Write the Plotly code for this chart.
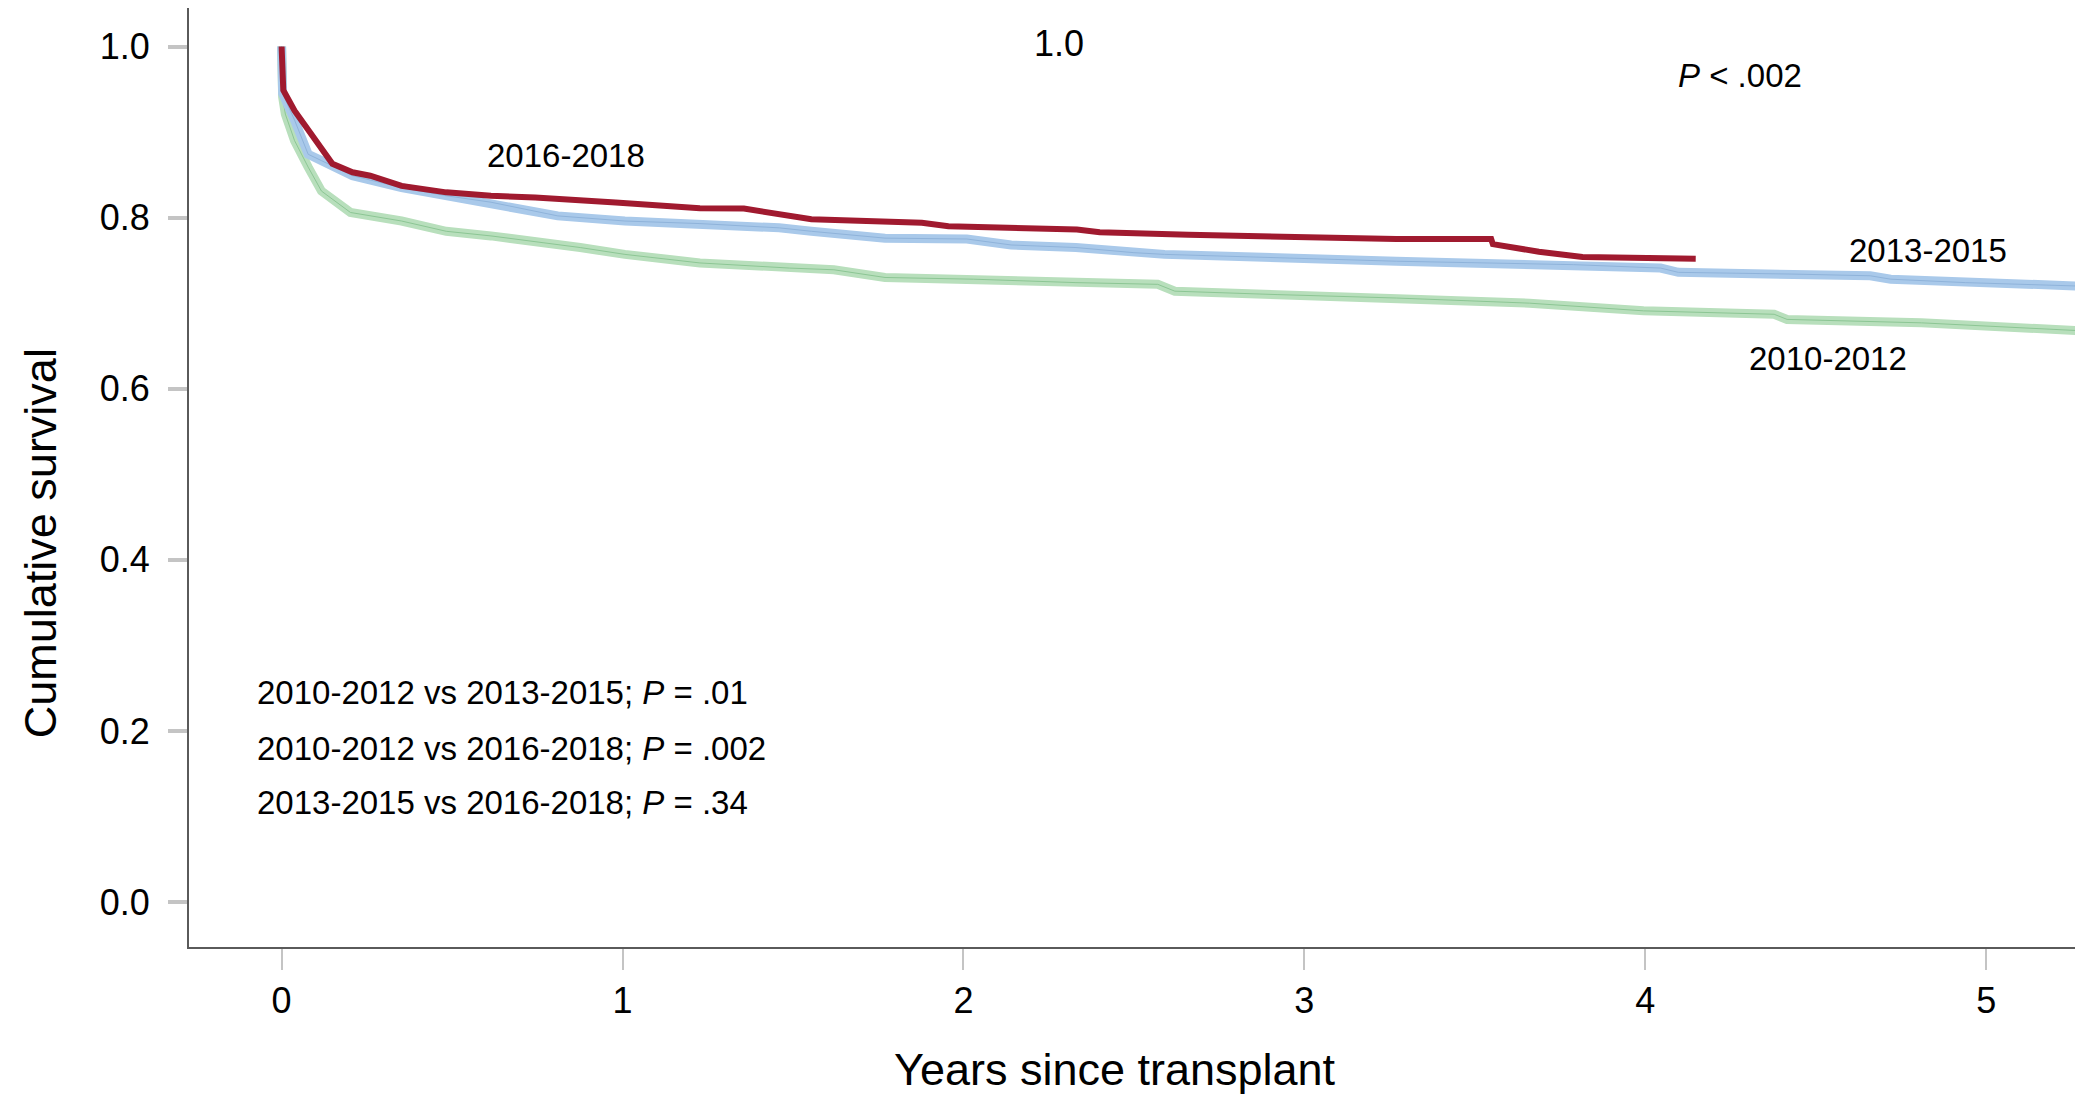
import plotly.graph_objects as go

# ---- data ----
years_2016 = [0, 0.005, 0.038, 0.078, 0.117, 0.149, 0.208, 0.26, 0.352, 0.483, 0.614, 0.744, 0.98,
              1.227, 1.356, 1.554, 1.878, 1.956, 2.333, 2.40, 2.66, 3.27, 3.548, 3.553, 3.688, 3.816, 4.148]
surv_2016 = [1.0, 0.949, 0.925, 0.902, 0.882, 0.863, 0.853, 0.849, 0.837, 0.8295, 0.8255, 0.8236, 0.8177,
             0.811, 0.8106, 0.798, 0.794, 0.790, 0.786, 0.783, 0.780, 0.775, 0.775, 0.769, 0.760, 0.754, 0.752]

years_2013 = [0, 0.003, 0.038, 0.078, 0.117, 0.208, 0.352, 0.483, 0.614, 0.81, 1.007, 1.227, 1.46, 1.554,
              1.77, 2.01, 2.14, 2.33, 2.50, 2.59, 3.27, 3.79, 4.045, 4.097, 4.43, 4.66, 4.72, 4.94, 5.27]
surv_2013 = [1.0, 0.945, 0.914, 0.874, 0.8666, 0.849, 0.835, 0.8255, 0.818, 0.802, 0.796, 0.793, 0.788, 0.784,
             0.776, 0.775, 0.768, 0.765, 0.759, 0.757, 0.749, 0.745, 0.741, 0.736, 0.734, 0.732, 0.728, 0.724, 0.720]

years_2010 = [0, 0.003, 0.011, 0.038, 0.078, 0.117, 0.202, 0.352, 0.483, 0.614, 0.876, 1.007, 1.227, 1.49,
              1.62, 1.77, 2.03, 2.33, 2.57, 2.62, 2.92, 3.27, 3.66, 3.995, 4.378, 4.416, 4.81, 5.265]
surv_2010 = [1.0, 0.941, 0.921, 0.890, 0.859, 0.831, 0.806, 0.796, 0.784, 0.7786, 0.765, 0.757, 0.747, 0.741,
             0.739, 0.730, 0.728, 0.724, 0.722, 0.714, 0.710, 0.706, 0.700, 0.691, 0.687, 0.681, 0.677, 0.668]

x_ticks = [0, 1, 2, 3, 4, 5]
y_ticks = [0.0, 0.2, 0.4, 0.6, 0.8, 1.0]

FONT = "Liberation Sans, Arial, Helvetica, sans-serif"

fig = go.Figure()

# 2010-2012 (green): light wide band + thin dark centre
fig.add_trace(go.Scatter(x=years_2010, y=surv_2010, mode="lines",
                         line=dict(color="#b8dfbc", width=9), hoverinfo="skip", showlegend=False))
fig.add_trace(go.Scatter(x=years_2010, y=surv_2010, mode="lines",
                         line=dict(color="#8cc694", width=1), showlegend=False))
# 2013-2015 (blue)
fig.add_trace(go.Scatter(x=years_2013, y=surv_2013, mode="lines",
                         line=dict(color="#a9c9ea", width=9), hoverinfo="skip", showlegend=False))
fig.add_trace(go.Scatter(x=years_2013, y=surv_2013, mode="lines",
                         line=dict(color="#8fb3da", width=1), showlegend=False))
# 2016-2018 (red)
fig.add_trace(go.Scatter(x=years_2016, y=surv_2016, mode="lines",
                         line=dict(color="#a01a2f", width=6), showlegend=False))

label_font = dict(family=FONT, size=33, color="black")
ann = [
    dict(x=0.834, y=0.873, text="2016-2018"),
    dict(x=4.83, y=0.762, text="2013-2015"),
    dict(x=4.535, y=0.635, text="2010-2012"),
    dict(x=4.277, y=0.966, text="<i>P</i> < .002"),
]
for a in ann:
    fig.add_annotation(x=a["x"], y=a["y"], text=a["text"], showarrow=False,
                       xanchor="center", yanchor="middle", font=label_font)

fig.add_annotation(x=2.279, y=1.003, text="1.0", showarrow=False,
                   xanchor="center", yanchor="middle", font=dict(family=FONT, size=36, color="black"))

pv_lines = [
    (0.245, "2010-2012 vs 2013-2015; <i>P</i> = .01"),
    (0.180, "2010-2012 vs 2016-2018; <i>P</i> = .002"),
    (0.116, "2013-2015 vs 2016-2018; <i>P</i> = .34"),
]
for yv, t in pv_lines:
    fig.add_annotation(x=-0.078, y=yv, text=t, showarrow=False,
                       xanchor="left", yanchor="middle", font=label_font)

# axis titles
fig.add_annotation(xref="paper", yref="paper", x=0, y=0.43, xshift=-149, text="Cumulative survival",
                   textangle=-90, showarrow=False, xanchor="center", yanchor="middle",
                   font=dict(family=FONT, size=45, color="black"))
fig.add_annotation(xref="paper", yref="paper", x=0.489, y=0, yshift=-122, text="Years since transplant",
                   showarrow=False, xanchor="center", yanchor="middle",
                   font=dict(family=FONT, size=45, color="black"))

fig.update_xaxes(range=[-0.2716, 5.284], tickvals=x_ticks, ticktext=[str(v) for v in x_ticks],
                 showgrid=False, zeroline=False, showline=True, linecolor="#5a5a5a", linewidth=2,
                 ticks="outside", ticklen=21, tickwidth=2, tickcolor="#c4c4c4",
                 tickfont=dict(family=FONT, size=36, color="black"), ticklabelstandoff=0)
fig.update_yaxes(range=[-0.0526, 1.045], tickvals=y_ticks, ticktext=[f"{v:.1f}" for v in y_ticks],
                 showgrid=False, zeroline=False, showline=True, linecolor="#5a5a5a", linewidth=2,
                 ticks="outside", ticklen=19, tickwidth=4, tickcolor="#c4c4c4",
                 tickfont=dict(family=FONT, size=36, color="black"), ticklabelstandoff=11)

fig.update_layout(width=2075, height=1103, margin=dict(l=181, r=0, t=0, b=164),
                  plot_bgcolor="white", paper_bgcolor="white", showlegend=False)

fig.write_html("out.html")
